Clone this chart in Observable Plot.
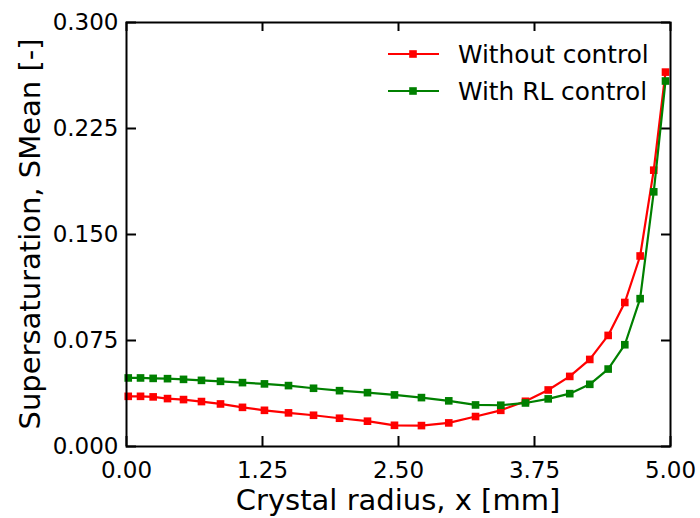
<!DOCTYPE html>
<html><head><meta charset="utf-8">
<script src="https://cdn.jsdelivr.net/npm/d3@7"></script>
<script src="https://cdn.jsdelivr.net/npm/@observablehq/plot@0.6"></script>
<style>body{margin:0;background:#fff;} #chart{position:relative;width:700px;height:518px;}</style>
</head><body><div id="chart"></div>
<script>
// Crystal radius grid [mm]
const radius = [0.016, 0.129, 0.245, 0.377, 0.524, 0.689, 0.864, 1.066, 1.268, 1.489, 1.719, 1.958, 2.215, 2.463, 2.711,
                2.962, 3.208, 3.440, 3.667, 3.876, 4.074, 4.258, 4.427, 4.580, 4.721, 4.846, 4.954];
// Supersaturation without control
const withoutControl = [0.0355, 0.0355, 0.0351, 0.0339, 0.0332, 0.0318, 0.0301, 0.0277, 0.0256, 0.0238, 0.0221, 0.0200, 0.0179, 0.0150, 0.0148,
                        0.0167, 0.0212, 0.0256, 0.0320, 0.0400, 0.0496, 0.0616, 0.0786, 0.1019, 0.1348, 0.1955, 0.2649];
// Supersaturation with RL control
const withRLControl = [0.0485, 0.0485, 0.0482, 0.0480, 0.0475, 0.0468, 0.0461, 0.0452, 0.0443, 0.0431, 0.0412, 0.0395, 0.0381, 0.0365, 0.0346,
                       0.0323, 0.0294, 0.0292, 0.0308, 0.0337, 0.0374, 0.0440, 0.0548, 0.0720, 0.1046, 0.1802, 0.2586];
const seriesNames = ["Without control", "With RL control"];
const seriesColors = ["#ff0000", "#008000"];
const xTicks = [0, 1.25, 2.5, 3.75, 5];
const yTicks = [0, 0.075, 0.15, 0.225, 0.3];
const xLabel = "Crystal radius, x [mm]";
const yLabel = "Supersaturation, SMean [-]";

const seriesValues = [withoutControl, withRLControl];
const rows = [];
seriesNames.forEach((name, k) => {
  radius.forEach((r, i) => rows.push({r, s: seriesValues[k][i], series: name}));
});

const W = 700, H = 518, mL = 126, mR = 30, mT = 22, mB = 72;
const innerH = H - mT - mB, innerW = W - mL - mR;
const font = "DejaVu Sans";

const seriesMarks = [];
seriesNames.forEach((name, k) => {
  const d = rows.filter(r => r.series === name);
  seriesMarks.push(Plot.line(d, {x: "r", y: "s", stroke: seriesColors[k], strokeWidth: 2.2}));
  seriesMarks.push(Plot.dot(d, {x: "r", y: "s", fill: seriesColors[k], symbol: "square", r: 4.3}));
});

const chart = Plot.plot({
  width: W, height: H,
  marginLeft: mL, marginRight: mR, marginTop: mT, marginBottom: mB,
  style: {fontFamily: font, background: "white", color: "black"},
  x: {domain: [0, 5]},
  y: {domain: [0, 0.3]},
  marks: [
    Plot.axisX(xTicks, {tickSize: 0, tickPadding: 15, tickFormat: d3.format(".2f"), fontSize: 23, label: null}),
    Plot.axisY(yTicks, {tickSize: 0, tickPadding: 8, tickFormat: d3.format(".3f"), fontSize: 23, label: null}),
    Plot.tickX(xTicks, {x: d => d, insetTop: innerH - 10, stroke: "black", strokeWidth: 2}),
    Plot.tickX(xTicks, {x: d => d, insetBottom: innerH - 9, stroke: "black", strokeWidth: 2}),
    Plot.tickY(yTicks, {y: d => d, insetRight: innerW - 10, stroke: "black", strokeWidth: 2}),
    Plot.tickY(yTicks, {y: d => d, insetLeft: innerW - 9, stroke: "black", strokeWidth: 2}),
    ...seriesMarks,
    Plot.frame({stroke: "black", strokeWidth: 2})
  ]
});

const svg = d3.select(chart);
svg.append("text").attr("x", 398).attr("y", 510).attr("text-anchor", "middle")
  .attr("font-family", font).attr("font-size", 29).attr("fill", "black").text(xLabel);
svg.append("text").attr("transform", "translate(40,234) rotate(-90)").attr("text-anchor", "middle")
  .attr("font-family", font).attr("font-size", 29).attr("fill", "black").text(yLabel);

const lg = svg.append("g").attr("font-family", font).attr("font-size", 24.8).attr("text-anchor", "start");
seriesNames.forEach((name, i) => {
  const y = 54 + i * 37;
  lg.append("line").attr("x1", 388).attr("x2", 439).attr("y1", y).attr("y2", y)
    .attr("stroke", seriesColors[i]).attr("stroke-width", 2.2);
  lg.append("rect").attr("x", 409.2).attr("y", y - 3.8).attr("width", 7.6).attr("height", 7.6)
    .attr("fill", seriesColors[i]);
  lg.append("text").attr("x", 458).attr("y", y).attr("dy", "0.36em").attr("text-anchor", "start")
    .attr("fill", "black").text(name);
});

document.getElementById("chart").appendChild(chart);
</script>
</body></html>
